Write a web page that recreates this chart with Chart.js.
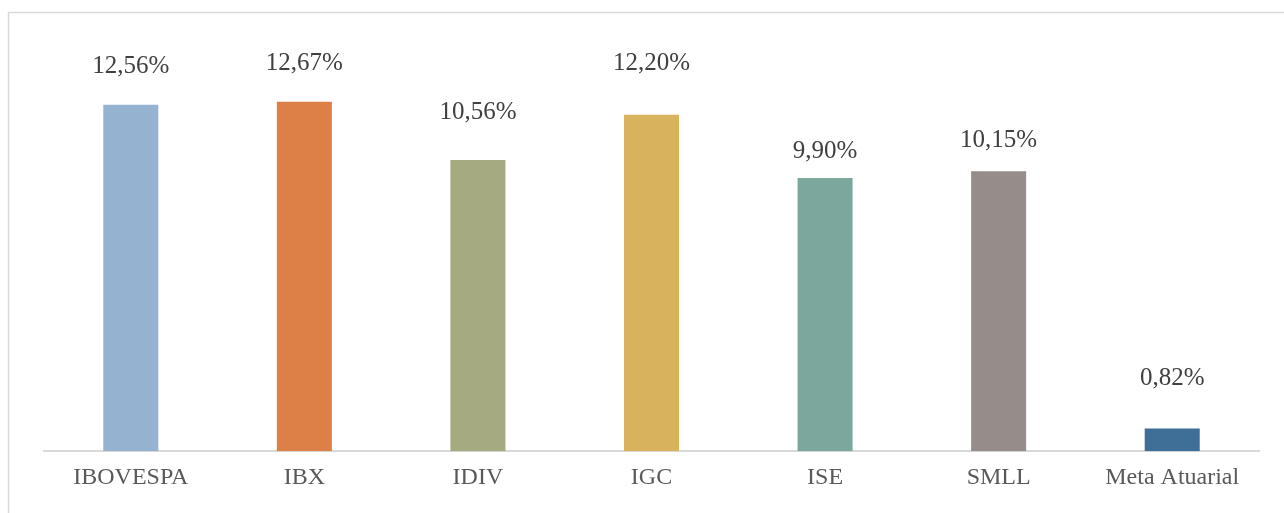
<!DOCTYPE html>
<html>
<head>
<meta charset="utf-8">
<script src="https://cdn.jsdelivr.net/npm/chart.js@4.4.1/dist/chart.umd.min.js"></script>
<style>
  html, body { margin: 0; padding: 0; background: #fff; }
  #wrap { width: 1284px; height: 513px; position: relative; }
</style>
</head>
<body>
<div id="wrap"><canvas id="chart"></canvas></div>
<script>
  // Rentabilidade dos índices vs. meta atuarial
  const categories = ['IBOVESPA', 'IBX', 'IDIV', 'IGC', 'ISE', 'SMLL', 'Meta Atuarial'];
  const values = [12.56, 12.67, 10.56, 12.20, 9.90, 10.15, 0.82];
  const barColors = ['#95B3D1', '#DD8047', '#A5AA81', '#D8B25C', '#7BA79D', '#968C8A', '#3F6E97'];
  // how far (px) each data label sits above its bar top
  const labelLift = [38, 38, 47, 51, 27, 31, 50];

  const fmt = (v) => v.toFixed(2).replace('.', ',') + '%';
  const serif = "'Liberation Serif', 'Times New Roman', serif";

  const frame = {
    id: 'frame',
    beforeDraw(chart) {
      const ctx = chart.ctx;
      ctx.save();
      ctx.strokeStyle = '#d9d9d9';
      ctx.lineWidth = 1.5;
      ctx.strokeRect(8.5, 12.5, 1400, 700);
      ctx.restore();
    },
  };

  const dataLabels = {
    id: 'dataLabels',
    afterDatasetsDraw(chart) {
      const ctx = chart.ctx;
      const meta = chart.getDatasetMeta(0);
      ctx.save();
      ctx.font = '25px ' + serif;
      ctx.fillStyle = '#404040';
      ctx.textAlign = 'center';
      ctx.textBaseline = 'middle';
      meta.data.forEach((bar, i) => {
        ctx.fillText(fmt(values[i]), bar.x, bar.y - labelLift[i]);
      });
      ctx.restore();
    },
  };

  new Chart(document.getElementById('chart'), {
    type: 'bar',
    data: {
      labels: categories,
      datasets: [{
        data: values,
        backgroundColor: barColors,
        borderWidth: 0,
        categoryPercentage: 1,
        barPercentage: 0.317,
      }],
    },
    options: {
      responsive: true,
      maintainAspectRatio: false,
      animation: false,
      layout: { padding: { left: 44, right: 25, top: 65, bottom: 9 } },
      plugins: { legend: { display: false }, tooltip: { enabled: false } },
      scales: {
        x: {
          grid: { display: false, drawTicks: false },
          border: { display: true, color: '#d9d9d9', width: 2 },
          ticks: { color: '#595959', font: { family: serif, size: 24 }, padding: 12, maxRotation: 0 },
        },
        y: {
          display: false,
          min: 0,
          max: 14,
        },
      },
    },
    plugins: [frame, dataLabels],
  });
</script>
</body>
</html>
